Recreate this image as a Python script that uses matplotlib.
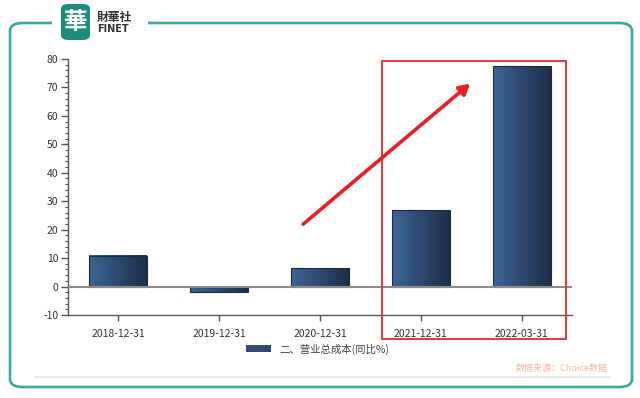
import numpy as np
import matplotlib
matplotlib.use("Agg")
import matplotlib.pyplot as plt
from matplotlib.patches import FancyBboxPatch, Rectangle, FancyArrowPatch
from matplotlib.colors import LinearSegmentedColormap
from matplotlib.ticker import MultipleLocator

plt.rcParams['font.family'] = ['Noto Sans CJK SC', 'DejaVu Sans']
plt.rcParams['axes.unicode_minus'] = False

# data
dates = ['2018-12-31', '2019-12-31', '2020-12-31', '2021-12-31', '2022-03-31']
values = [10.9, -1.9, 6.5, 27.0, 77.5]
series_name = '二、营业总成本(同比%)'
source_text = '数据来源：Choice数据'

W, H = 640, 398
fig = plt.figure(figsize=(W / 100, H / 100), dpi=100)

def px(x, y):
    # pixel coords (top-left origin) -> figure fraction
    return x / W, 1 - y / H

# outer frame
teal = '#3aa89c'
frame = FancyBboxPatch(px(10, 387), (632 - 10) / W, (387 - 23) / H,
                       boxstyle='round,pad=0,rounding_size=0.02',
                       transform=fig.transFigure, fill=False,
                       edgecolor=teal, linewidth=1.9, zorder=1)
fig.patches.append(frame)
# white gap in the top line for the logo
fig.patches.append(Rectangle(px(52, 30), 96 / W, 14 / H, transform=fig.transFigure,
                             facecolor='white', edgecolor='none', zorder=2))
# logo
fig.patches.append(FancyBboxPatch(px(61, 40), 29 / W, 36 / H,
                                  boxstyle='round,pad=0,rounding_size=0.012',
                                  transform=fig.transFigure, facecolor='#1e8c7c',
                                  edgecolor='none', zorder=3))
fig.text(*px(75.5, 22), '華', color='white', fontsize=17, fontweight='bold',
         ha='center', va='center', zorder=4)
fig.text(*px(97, 17), '財華社', color='#333333', fontsize=8.5, fontweight='bold',
         ha='left', va='center', zorder=4)
fig.text(*px(97, 28.5), 'FINET', color='#333333', fontsize=7, fontweight='bold',
         ha='left', va='center', zorder=4, family='DejaVu Sans')

# light line at the bottom and source
fig.add_artist(plt.Line2D([35 / W, 610 / W], [1 - 377 / H, 1 - 377 / H],
                          transform=fig.transFigure, color='#e6e6e6', linewidth=1.2))
fig.text(*px(608, 369), source_text, color='#f5b7a2', fontsize=6.5,
         ha='right', va='center')

# main axes
ax = fig.add_axes([68 / W, 1 - 315 / H, (572 - 68) / W, (315 - 59) / H])
x = np.arange(len(dates))
bw = 0.575
cmap = LinearSegmentedColormap.from_list('bar', ['#3c6595', '#1d2e48'])
grad = np.linspace(0, 1, 256).reshape(1, -1)
bars = ax.bar(x, values, width=bw, color='none', edgecolor='#1b2a40', linewidth=0.8, zorder=3)
for b in bars:
    x0 = b.get_x()
    y0, y1 = sorted([b.get_y(), b.get_y() + b.get_height()])
    ax.imshow(grad, cmap=cmap, aspect='auto', extent=[x0, x0 + b.get_width(), y0, y1],
              zorder=2, interpolation='bilinear')

ax.axhline(0, color='#8c8c8c', linewidth=1.5, zorder=4)
ax.set_xlim(-0.5, len(dates) - 0.5)
ax.set_ylim(-10, 80)
ax.yaxis.set_major_locator(MultipleLocator(10))
ax.yaxis.set_minor_locator(MultipleLocator(2))
ax.set_xticks(x)
ax.set_xticklabels(dates)
for s in ['top', 'right']:
    ax.spines[s].set_visible(False)
for s in ['left', 'bottom']:
    ax.spines[s].set_color('#555555')
    ax.spines[s].set_linewidth(1.0)
ax.tick_params(axis='y', which='major', length=5, width=1, color='#555555',
               labelsize=7.5, labelcolor='#333333', pad=2)
ax.tick_params(axis='y', which='minor', length=2.5, width=0.8, color='#555555')
ax.tick_params(axis='x', length=4, width=1, color='#555555', labelsize=7.5,
               labelcolor='#333333', pad=6)

# legend
leg_patch = Rectangle((0, 0), 1, 1, facecolor='#2d4b74', edgecolor='none')
fig.legend([leg_patch], [series_name], loc='center', bbox_to_anchor=px(318, 349),
           frameon=False, fontsize=7.5, handlelength=2.4, handleheight=0.6,
           labelcolor='#444444')

# red highlight box and arrow
fig.patches.append(Rectangle(px(382, 339), (566 - 382) / W, (339 - 61) / H,
                             transform=fig.transFigure, fill=False,
                             edgecolor='#e8262a', linewidth=1.3, zorder=10))
arrow = FancyArrowPatch(px(301, 226), px(472, 82), transform=fig.transFigure,
                        arrowstyle='-|>,head_length=6,head_width=3.5',
                        color='#ee1c24', linewidth=2.6, zorder=11)
fig.patches.append(arrow)

fig.savefig('out.png', dpi=100)
